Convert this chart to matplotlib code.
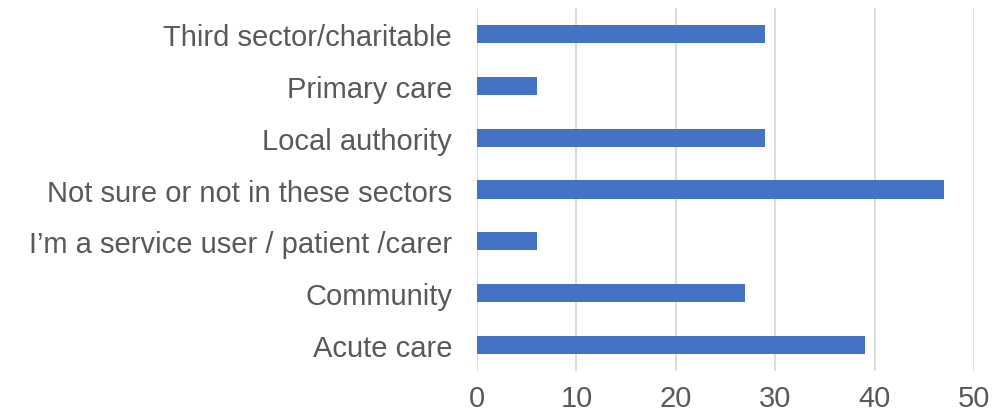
import matplotlib
matplotlib.use("Agg")
import matplotlib.pyplot as plt

categories = ["Acute care", "Community", "I\u2019m a service user / patient /carer",
              "Not sure or not in these sectors", "Local authority",
              "Primary care", "Third sector/charitable"]
values = [39, 27, 6, 47, 29, 6, 29]
xticks = [0, 10, 20, 30, 40, 50]

plt.rcParams['font.family'] = ['Liberation Sans', 'DejaVu Sans']

fig = plt.figure(figsize=(10.07, 4.14), dpi=100)
ax = fig.add_axes([0.4737, 0.1014, 0.4935, 0.8768])

ax.barh(range(len(categories)), values, height=0.35, color='#4472C4', zorder=3)
ax.set_yticks(range(len(categories)))
ax.set_yticklabels(categories)
ax.set_ylim(-0.5, len(categories) - 0.5)
ax.set_xlim(0, 50)
ax.set_xticks(xticks)
ax.xaxis.grid(True, color='#D9D9D9', linewidth=1.3, zorder=0)
for s in ax.spines.values():
    s.set_visible(False)
ax.tick_params(axis='both', length=0, labelsize=21, labelcolor='#595959')
ax.tick_params(axis='y', pad=18)
ax.tick_params(axis='x', pad=9.5)

fig.savefig("out.png", dpi=100)
